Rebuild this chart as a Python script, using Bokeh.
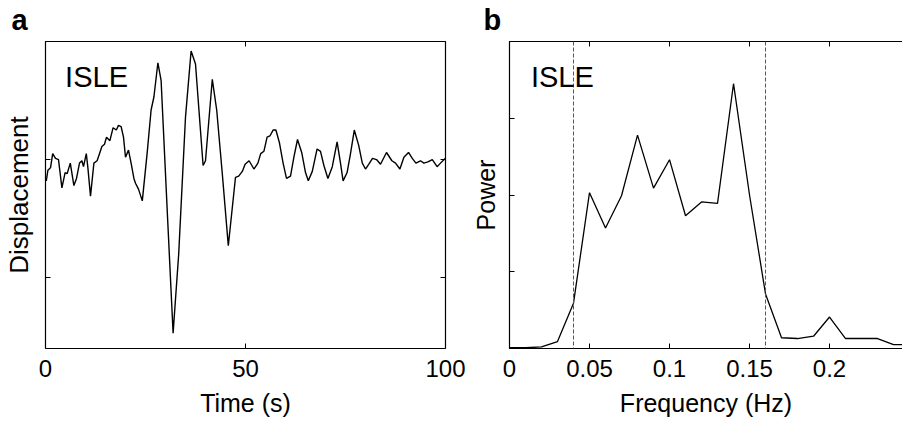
from bokeh.plotting import figure
from bokeh.layouts import row
from bokeh.models import Range1d, LinearAxis, FixedTicker, Span, Label
from bokeh.embed import file_html
from bokeh.resources import INLINE

# ---------------- data ----------------
station = "ISLE"
panel_letters = ["a", "b"]

time_s = [0.2, 0.6, 1.25, 1.8, 2.5, 3.25, 4.1, 4.9, 5.4, 6.2, 7.1, 7.75, 8.5, 9.1, 9.5,
          10.2, 10.6, 11.25, 12.1, 12.9, 13.5, 14.1, 14.75, 15.25, 16.1, 16.9, 17.7,
          18.25, 18.9, 19.5, 20.0, 20.75, 21.4, 22.1, 22.5, 23.25, 24.2, 25.4, 26.4,
          27.1, 28.1, 28.9, 30.4, 31.9, 33.3, 35.0, 36.4, 37.5, 39.4, 40.0, 41.7,
          42.8, 44.2, 45.7, 47.5, 48.3, 49.2, 49.9, 50.9, 52.1, 53.1, 53.8, 54.6,
          55.4, 56.1, 56.9, 57.6, 58.5, 59.4, 60.25, 61.25, 62.1, 63.0, 64.05, 65.0,
          65.7, 66.7, 67.9, 68.75, 69.6, 70.6, 71.7, 72.9, 73.75, 74.4, 75.4, 76.25,
          77.2, 78.3, 79.2, 80.0, 80.8, 81.75, 82.75, 83.75, 85.25, 86.6, 87.5, 88.6,
          89.6, 90.75, 91.7, 92.6, 93.75, 94.6, 95.6, 96.7, 97.9, 98.75, 99.9]
displacement = [-0.18, -0.09, -0.07, 0.05, 0.01, 0.00, -0.24, -0.11, -0.12, -0.03, -0.22,
                -0.16, -0.03, -0.01, -0.06, 0.05, -0.07, -0.31, -0.03, -0.01, 0.05, 0.11,
                0.13, 0.19, 0.16, 0.27, 0.25, 0.29, 0.28, 0.19, 0.02, 0.08, -0.03, -0.16,
                -0.20, -0.25, -0.35, 0.05, 0.42, 0.53, 0.82, 0.67, -0.41, -1.47, -0.80,
                0.36, 0.92, 0.81, -0.05, -0.01, 0.68, 0.42, -0.12, -0.73, -0.15, -0.14,
                -0.10, -0.04, -0.01, -0.08, -0.03, 0.05, 0.07, 0.19, 0.20, 0.25, 0.25,
                0.14, -0.03, -0.16, -0.14, 0.02, 0.17, 0.06, -0.11, -0.18, -0.10, 0.09,
                0.07, -0.05, -0.16, -0.06, 0.15, -0.03, -0.18, -0.11, 0.05, 0.25, 0.12,
                -0.03, -0.08, -0.04, 0.01, 0.00, -0.04, 0.06, -0.01, -0.03, -0.08, 0.02,
                0.06, 0.01, -0.03, -0.01, -0.03, -0.02, 0.00, -0.06, -0.03, 0.01]

freq_hz = [0.00, 0.01, 0.02, 0.03, 0.04, 0.05, 0.06, 0.07, 0.08, 0.09, 0.10, 0.11, 0.12,
           0.13, 0.14, 0.15, 0.16, 0.17, 0.18, 0.19, 0.20, 0.21, 0.22, 0.23, 0.24, 0.25]
power = [0.01, 0.01, 0.02, 0.09, 0.59, 2.03, 1.57, 1.99, 2.78, 2.09, 2.46, 1.73, 1.91,
         1.89, 3.45, 2.00, 0.71, 0.14, 0.13, 0.16, 0.41, 0.13, 0.13, 0.13, 0.05, 0.05]
band_edges_hz = [0.04, 0.16]

time_ticks = [0, 50, 100]
time_tick_labels = ["0", "50", "100"]
disp_ticks = [-1, 0, 1]
freq_ticks = [0, 0.05, 0.1, 0.15, 0.2]
freq_tick_labels = ["0", "0.05", "0.1", "0.15", "0.2"]
power_ticks = [0, 1, 2, 3, 4]

# ---------------- style ----------------
SANS = "Liberation Sans"


def style_axis(ax, ticks, overrides=None, show_labels=True):
    ax.ticker = FixedTicker(ticks=ticks)
    ax.major_tick_in = 5
    ax.major_tick_out = 0
    ax.minor_tick_line_color = None
    ax.axis_line_color = "black"
    ax.axis_line_width = 1.2
    ax.major_tick_line_color = "black"
    ax.major_tick_line_width = 1
    if show_labels:
        ax.major_label_text_font = SANS
        ax.major_label_text_font_size = "24px"
        ax.major_label_text_color = "black"
        ax.major_label_standoff = 11
        if overrides:
            ax.major_label_overrides = overrides
    else:
        ax.major_label_text_font_size = "1px"
        ax.major_label_text_color = None
        ax.major_label_standoff = 0


def make_fig(width, min_left, min_right, x_rng, y_rng, letter):
    p = figure(width=width, height=425, output_backend="svg", toolbar_location=None,
               x_range=x_rng, y_range=y_rng, x_axis_location=None, y_axis_location=None,
               min_border_left=min_left, min_border_right=min_right, min_border_top=41,
               min_border_bottom=77, title=letter)
    p.outline_line_color = None
    p.grid.visible = False
    p.background_fill_color = "white"
    p.border_fill_color = "white"
    p.title.align = "left"
    p.title.text_font = SANS
    p.title.text_font_size = "29px"
    p.title.text_font_style = "bold"
    p.title.text_color = "black"
    p.title.standoff = 7
    p.title.vertical_align = "top"
    return p


def x_axis(p, ticks, labels, text):
    ax = LinearAxis(axis_label=text)
    style_axis(ax, ticks, dict(zip(ticks, labels)))
    ax.axis_label_text_font = SANS
    ax.axis_label_text_font_size = "25px"
    ax.axis_label_text_font_style = "normal"
    ax.axis_label_text_color = "black"
    ax.axis_label_standoff = 9
    p.add_layout(ax, "below")
    top = LinearAxis()
    style_axis(top, ticks, show_labels=False)
    p.add_layout(top, "above")


def y_axis(p, ticks, text, size, standoff):
    ax = LinearAxis(axis_label=text)
    style_axis(ax, ticks, show_labels=False)
    ax.axis_label_text_font = SANS
    ax.axis_label_text_font_size = size
    ax.axis_label_text_font_style = "normal"
    ax.axis_label_text_color = "black"
    ax.axis_label_standoff = standoff
    p.add_layout(ax, "left")


# ---------------- panel a ----------------
pa = make_fig(468, 45, 23, Range1d(0, 100), Range1d(-1.6, 1.0), panel_letters[0])
pa.title.offset = -34
x_axis(pa, time_ticks, time_tick_labels, "Time (s)")
y_axis(pa, disp_ticks, "Displacement", "26px", 12)
ya_right = LinearAxis()
style_axis(ya_right, disp_ticks, show_labels=False)
pa.add_layout(ya_right, "right")

pa.line(time_s, displacement, line_color="black", line_width=1.4)
pa.add_layout(Label(x=4.9, y=0.70, text=station, text_font=SANS, text_font_size="29px",
                    text_color="black", text_baseline="alphabetic", text_align="left"))

# ---------------- panel b ----------------
pb = make_fig(434, 41, 0, Range1d(0, 0.2456), Range1d(0, 4), panel_letters[1])
pb.title.offset = -26
x_axis(pb, freq_ticks, freq_tick_labels, "Frequency (Hz)")
y_axis(pb, power_ticks, "Power", "25px", 10)

for f in band_edges_hz:
    pb.add_layout(Span(location=f, dimension="height", line_color="#555555",
                       line_width=1, line_dash="4 2"))

pb.line(freq_hz, power, line_color="black", line_width=1.3)
pb.add_layout(Label(x=0.0134, y=3.54, text=station, text_font=SANS, text_font_size="29px",
                    text_color="black", text_baseline="alphabetic", text_align="left"))

layout = row(pa, pb)
open("out.html", "w").write(file_html(layout, INLINE))
